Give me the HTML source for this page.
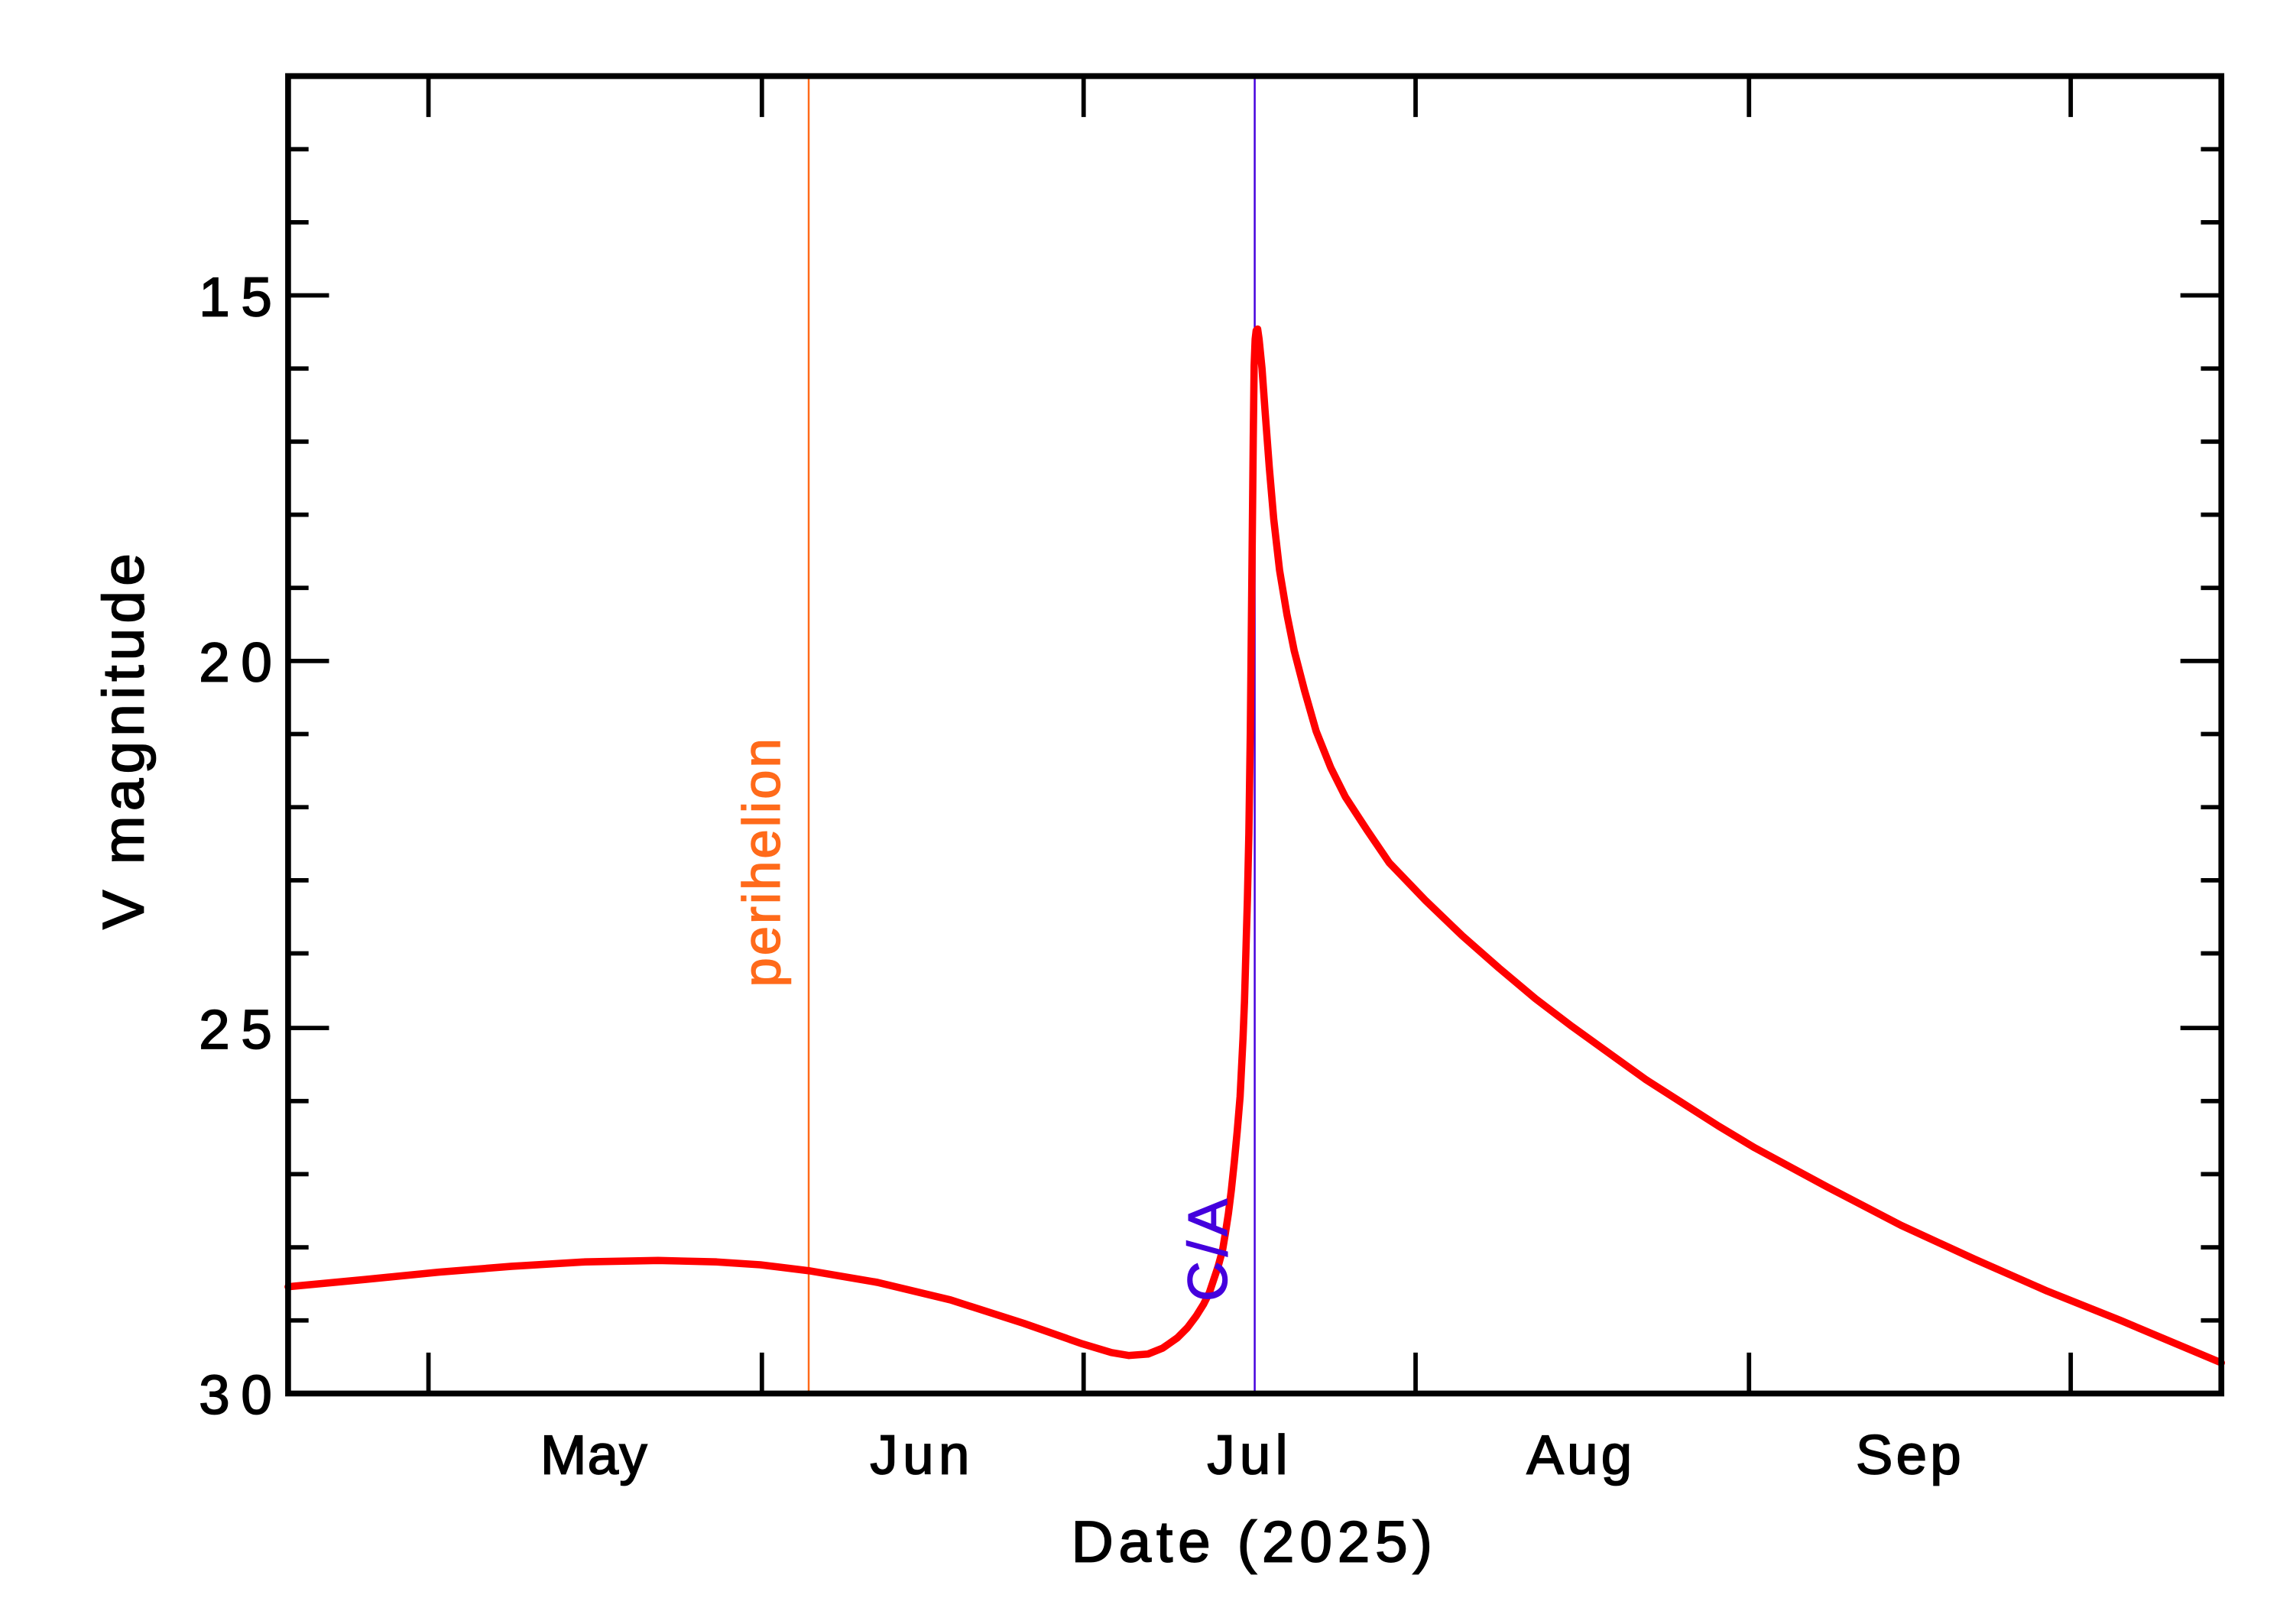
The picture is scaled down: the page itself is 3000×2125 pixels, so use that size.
<!DOCTYPE html>
<html><head><meta charset="utf-8"><style>html,body{margin:0;padding:0;background:#fff}svg{display:block}</style></head>
<body>
<svg xmlns="http://www.w3.org/2000/svg" width="3000" height="2125" viewBox="0 0 1568 1110.6" font-family="Liberation Sans, sans-serif">
<rect width="1568" height="1111" fill="#fff"/>
<line x1="553" y1="52" x2="553" y2="953" stroke="#FF6A1A" stroke-width="1.3"/>
<line x1="858" y1="52" x2="858" y2="953" stroke="#4400DD" stroke-width="1.3"/>
<polyline fill="none" stroke="#FF0000" stroke-width="5" stroke-linejoin="round" stroke-linecap="round" points="197,880 250,875 300,870 350,866 400,863 450,862 490,863 520,865 553,869 600,877 650,889 700,905 740,919 760,925 772,927 785,926 795,922 805,915 812,908 818,900 823,892 827,884 830,875 833,866 836,855 838,843 840,830 842,814 844,795 846,774 848,750 850,710 851,685 852,650 853,615 854,570 855,500 856,400 857,300 857.6,250 858.3,232 859,226 860,225 861,232 862,242 863,252 865,280 868,320 871,355 875,390 880,420 885,445 892,472 900,500 910,525 920,545 935,568 950,590 975,616 1000,640 1025,662 1050,683 1075,702 1100,720 1125,738 1150,754 1175,770 1200,785 1250,812 1300,838 1350,861 1400,883 1450,903 1519,932"/>
<rect x="197" y="52" width="1322" height="901" fill="none" stroke="#000" stroke-width="4"/>
<g stroke="#000" stroke-width="3">
<line x1="293" y1="953" x2="293" y2="925"/><line x1="293" y1="52" x2="293" y2="80"/>
<line x1="521" y1="953" x2="521" y2="925"/><line x1="521" y1="52" x2="521" y2="80"/>
<line x1="741" y1="953" x2="741" y2="925"/><line x1="741" y1="52" x2="741" y2="80"/>
<line x1="968" y1="953" x2="968" y2="925"/><line x1="968" y1="52" x2="968" y2="80"/>
<line x1="1196" y1="953" x2="1196" y2="925"/><line x1="1196" y1="52" x2="1196" y2="80"/>
<line x1="1416" y1="953" x2="1416" y2="925"/><line x1="1416" y1="52" x2="1416" y2="80"/>
<line x1="197" y1="202" x2="225" y2="202"/><line x1="1519" y1="202" x2="1491" y2="202"/>
<line x1="197" y1="452" x2="225" y2="452"/><line x1="1519" y1="452" x2="1491" y2="452"/>
<line x1="197" y1="703" x2="225" y2="703"/><line x1="1519" y1="703" x2="1491" y2="703"/>
<line x1="197" y1="102" x2="211" y2="102"/><line x1="1519" y1="102" x2="1505" y2="102"/>
<line x1="197" y1="152" x2="211" y2="152"/><line x1="1519" y1="152" x2="1505" y2="152"/>
<line x1="197" y1="252" x2="211" y2="252"/><line x1="1519" y1="252" x2="1505" y2="252"/>
<line x1="197" y1="302" x2="211" y2="302"/><line x1="1519" y1="302" x2="1505" y2="302"/>
<line x1="197" y1="352" x2="211" y2="352"/><line x1="1519" y1="352" x2="1505" y2="352"/>
<line x1="197" y1="402" x2="211" y2="402"/><line x1="1519" y1="402" x2="1505" y2="402"/>
<line x1="197" y1="502" x2="211" y2="502"/><line x1="1519" y1="502" x2="1505" y2="502"/>
<line x1="197" y1="552" x2="211" y2="552"/><line x1="1519" y1="552" x2="1505" y2="552"/>
<line x1="197" y1="602" x2="211" y2="602"/><line x1="1519" y1="602" x2="1505" y2="602"/>
<line x1="197" y1="652" x2="211" y2="652"/><line x1="1519" y1="652" x2="1505" y2="652"/>
<line x1="197" y1="753" x2="211" y2="753"/><line x1="1519" y1="753" x2="1505" y2="753"/>
<line x1="197" y1="803" x2="211" y2="803"/><line x1="1519" y1="803" x2="1505" y2="803"/>
<line x1="197" y1="853" x2="211" y2="853"/><line x1="1519" y1="853" x2="1505" y2="853"/>
<line x1="197" y1="903" x2="211" y2="903"/><line x1="1519" y1="903" x2="1505" y2="903"/>
</g>
<g font-size="38" text-anchor="end" fill="#000" stroke="#000" stroke-width="0.9">
<text x="186" y="216" textLength="50">15</text>
<text x="186" y="466" textLength="50">20</text>
<text x="186" y="717" textLength="50">25</text>
<text x="186" y="967" textLength="50">30</text>
</g>
<g font-size="38" text-anchor="middle" fill="#000" stroke="#000" stroke-width="0.9">
<text x="406" y="1008" textLength="73">May</text>
<text x="629" y="1008" textLength="68">Jun</text>
<text x="853" y="1008" textLength="55">Jul</text>
<text x="1080" y="1008" textLength="72">Aug</text>
<text x="1305" y="1008" textLength="72">Sep</text>
</g>
<text x="856" y="1068" font-size="40" text-anchor="middle" textLength="247" stroke="#000" stroke-width="0.9">Date (2025)</text>
<text transform="translate(98,507) rotate(-90)" font-size="40" text-anchor="middle" textLength="257" stroke="#000" stroke-width="0.9">V magnitude</text>
<text transform="translate(533,590) rotate(-90)" font-size="36" text-anchor="middle" fill="#FF6A1A" stroke="#FF6A1A" stroke-width="0.8" textLength="170">perihelion</text>
<text transform="translate(839,855) rotate(-90)" font-size="38" text-anchor="middle" fill="#4400DD" stroke="#4400DD" stroke-width="0.8" textLength="70">C/A</text>
</svg>
</body></html>
